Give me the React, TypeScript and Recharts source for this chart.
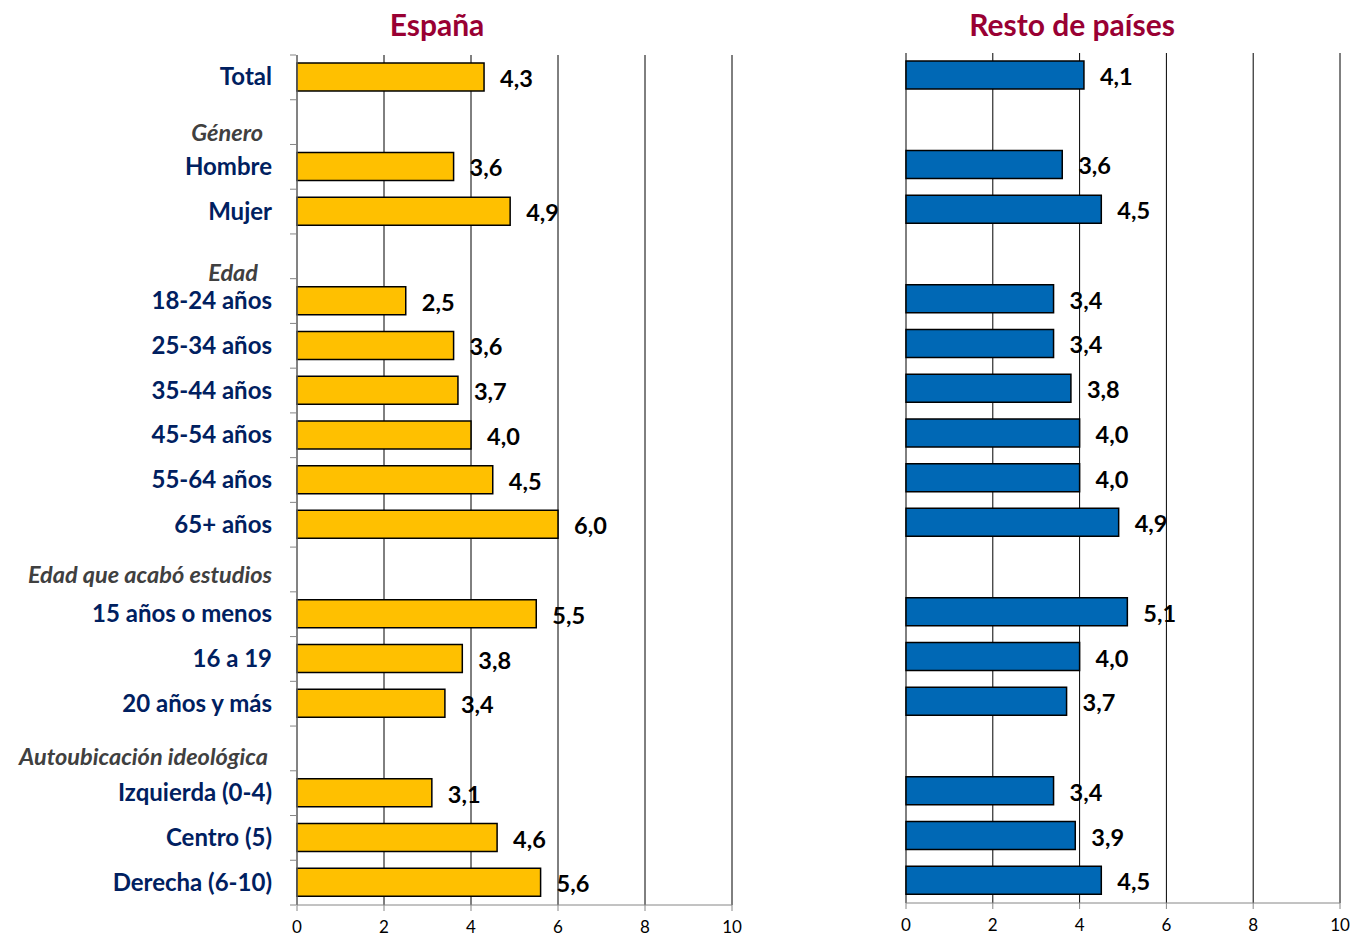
import { BarChart, Bar, XAxis, YAxis, CartesianGrid, LabelList } from 'recharts';

const categories = [
  'Total', 'Género', 'Hombre', 'Mujer', 'Edad', '18-24 años', '25-34 años', '35-44 años',
  '45-54 años', '55-64 años', '65+ años', 'Edad que acabó estudios', '15 años o menos',
  '16 a 19', '20 años y más', 'Autoubicación ideológica', 'Izquierda (0-4)', 'Centro (5)', 'Derecha (6-10)',
];
const headers = ['Género', 'Edad', 'Edad que acabó estudios', 'Autoubicación ideológica'];
const espana = [4.3, null, 3.6, 4.9, null, 2.5, 3.6, 3.7, 4.0, 4.5, 6.0, null, 5.5, 3.8, 3.4, null, 3.1, 4.6, 5.6];
const resto = [4.1, null, 3.6, 4.5, null, 3.4, 3.4, 3.8, 4.0, 4.0, 4.9, null, 5.1, 4.0, 3.7, null, 3.4, 3.9, 4.5];
const xTicks = [0, 2, 4, 6, 8, 10];

const data = categories.map((name, i) => ({ name, espana: espana[i], resto: resto[i] }));

const FONT = 'Lato, "Open Sans", sans-serif';
const ROW = 850 / categories.length;
const headerDy: Record<string, number> = {
  'Género': 11, 'Edad': 17, 'Edad que acabó estudios': 6, 'Autoubicación ideológica': 9,
};
const headerRight: Record<string, number> = {
  'Género': 263, 'Edad': 258, 'Edad que acabó estudios': 272, 'Autoubicación ideológica': 268,
};

const fmt = (v: any) => (v == null ? '' : Number(v).toFixed(1).replace('.', ','));

function CategoryTick(props: any) {
  const { x, y, payload, index } = props;
  const isHeader = headers.includes(payload.value);
  const last = index === categories.length - 1;
  return (
    <g>
      <line x1={x + 1} x2={x + 7} y1={y - ROW / 2} y2={y - ROW / 2} stroke="#868686" />
      {last && <line x1={x + 1} x2={x + 7} y1={y + ROW / 2} y2={y + ROW / 2} stroke="#868686" />}
      {isHeader ? (
        <text x={headerRight[payload.value]} y={y + headerDy[payload.value]} dy={8} textAnchor="end"
          fontFamily={FONT} fontSize={23.5} fontWeight="bold" fontStyle="italic" fill="#404040">
          {payload.value}
        </text>
      ) : (
        <text x={272} y={y} dy={8} textAnchor="end"
          fontFamily={FONT} fontSize={24} fontWeight="bold" fill="#002060">
          {payload.value}
        </text>
      )}
    </g>
  );
}

const valueLabel = (props: any) => {
  const { x, y, width, height, value } = props;
  if (value == null) return null;
  return (
    <text x={x + width + 16} y={y + height / 2 + 2} dy={8} fontFamily={FONT}
      fontSize={23.5} fontWeight="bold" fill="#000">
      {fmt(value)}
    </text>
  );
};

function NumTick(props: any) {
  const { x, y, payload } = props;
  return (
    <text x={x} y={y + 20} textAnchor="middle" fontFamily={FONT} fontSize={17} fill="#000">
      {payload.value}
    </text>
  );
}

const titleStyle = {
  position: 'absolute' as const, top: 6, textAlign: 'center' as const, lineHeight: '36px',
  fontFamily: FONT, fontSize: 30, fontWeight: 'bold', color: '#990033',
};

export default function App() {
  return (
    <div style={{ position: 'absolute', left: 0, top: 0, width: 1351, height: 938, background: '#fff' }}>
      <div style={{ ...titleStyle, left: 287, width: 300 }}>España</div>
      <div style={{ ...titleStyle, left: 872, width: 400 }}>Resto de países</div>

      <div style={{ position: 'absolute', left: 0, top: 0 }}>
        <BarChart width={760} height={938} data={data} layout="vertical"
          margin={{ top: 55, right: 28, bottom: 0, left: 7 }} barSize={28}>
          <CartesianGrid horizontal={false} stroke="#000" />
          <XAxis type="number" domain={[0, 10]} ticks={xTicks} height={33}
            stroke="#868686" tickSize={6} tick={<NumTick />} />
          <YAxis type="category" dataKey="name" width={290} stroke="#868686"
            tickLine={false} tick={<CategoryTick />} interval={0} />
          <Bar dataKey="espana" fill="#FFC000" stroke="#000" strokeWidth={1.5} isAnimationActive={false}>
            <LabelList dataKey="espana" content={valueLabel} />
          </Bar>
        </BarChart>
      </div>

      <div style={{ position: 'absolute', left: 880, top: 0 }}>
        <BarChart width={471} height={938} data={data} layout="vertical"
          margin={{ top: 53, right: 11, bottom: 0, left: 26 }} barSize={28}>
          <CartesianGrid horizontal={false} stroke="#000" />
          <XAxis type="number" domain={[0, 10]} ticks={xTicks} height={35}
            stroke="#868686" tickSize={6} tick={<NumTick />} />
          <YAxis type="category" dataKey="name" hide />
          <Bar dataKey="resto" fill="#0068B5" stroke="#000" strokeWidth={1.5} isAnimationActive={false}>
            <LabelList dataKey="resto" content={valueLabel} />
          </Bar>
        </BarChart>
      </div>
    </div>
  );
}
